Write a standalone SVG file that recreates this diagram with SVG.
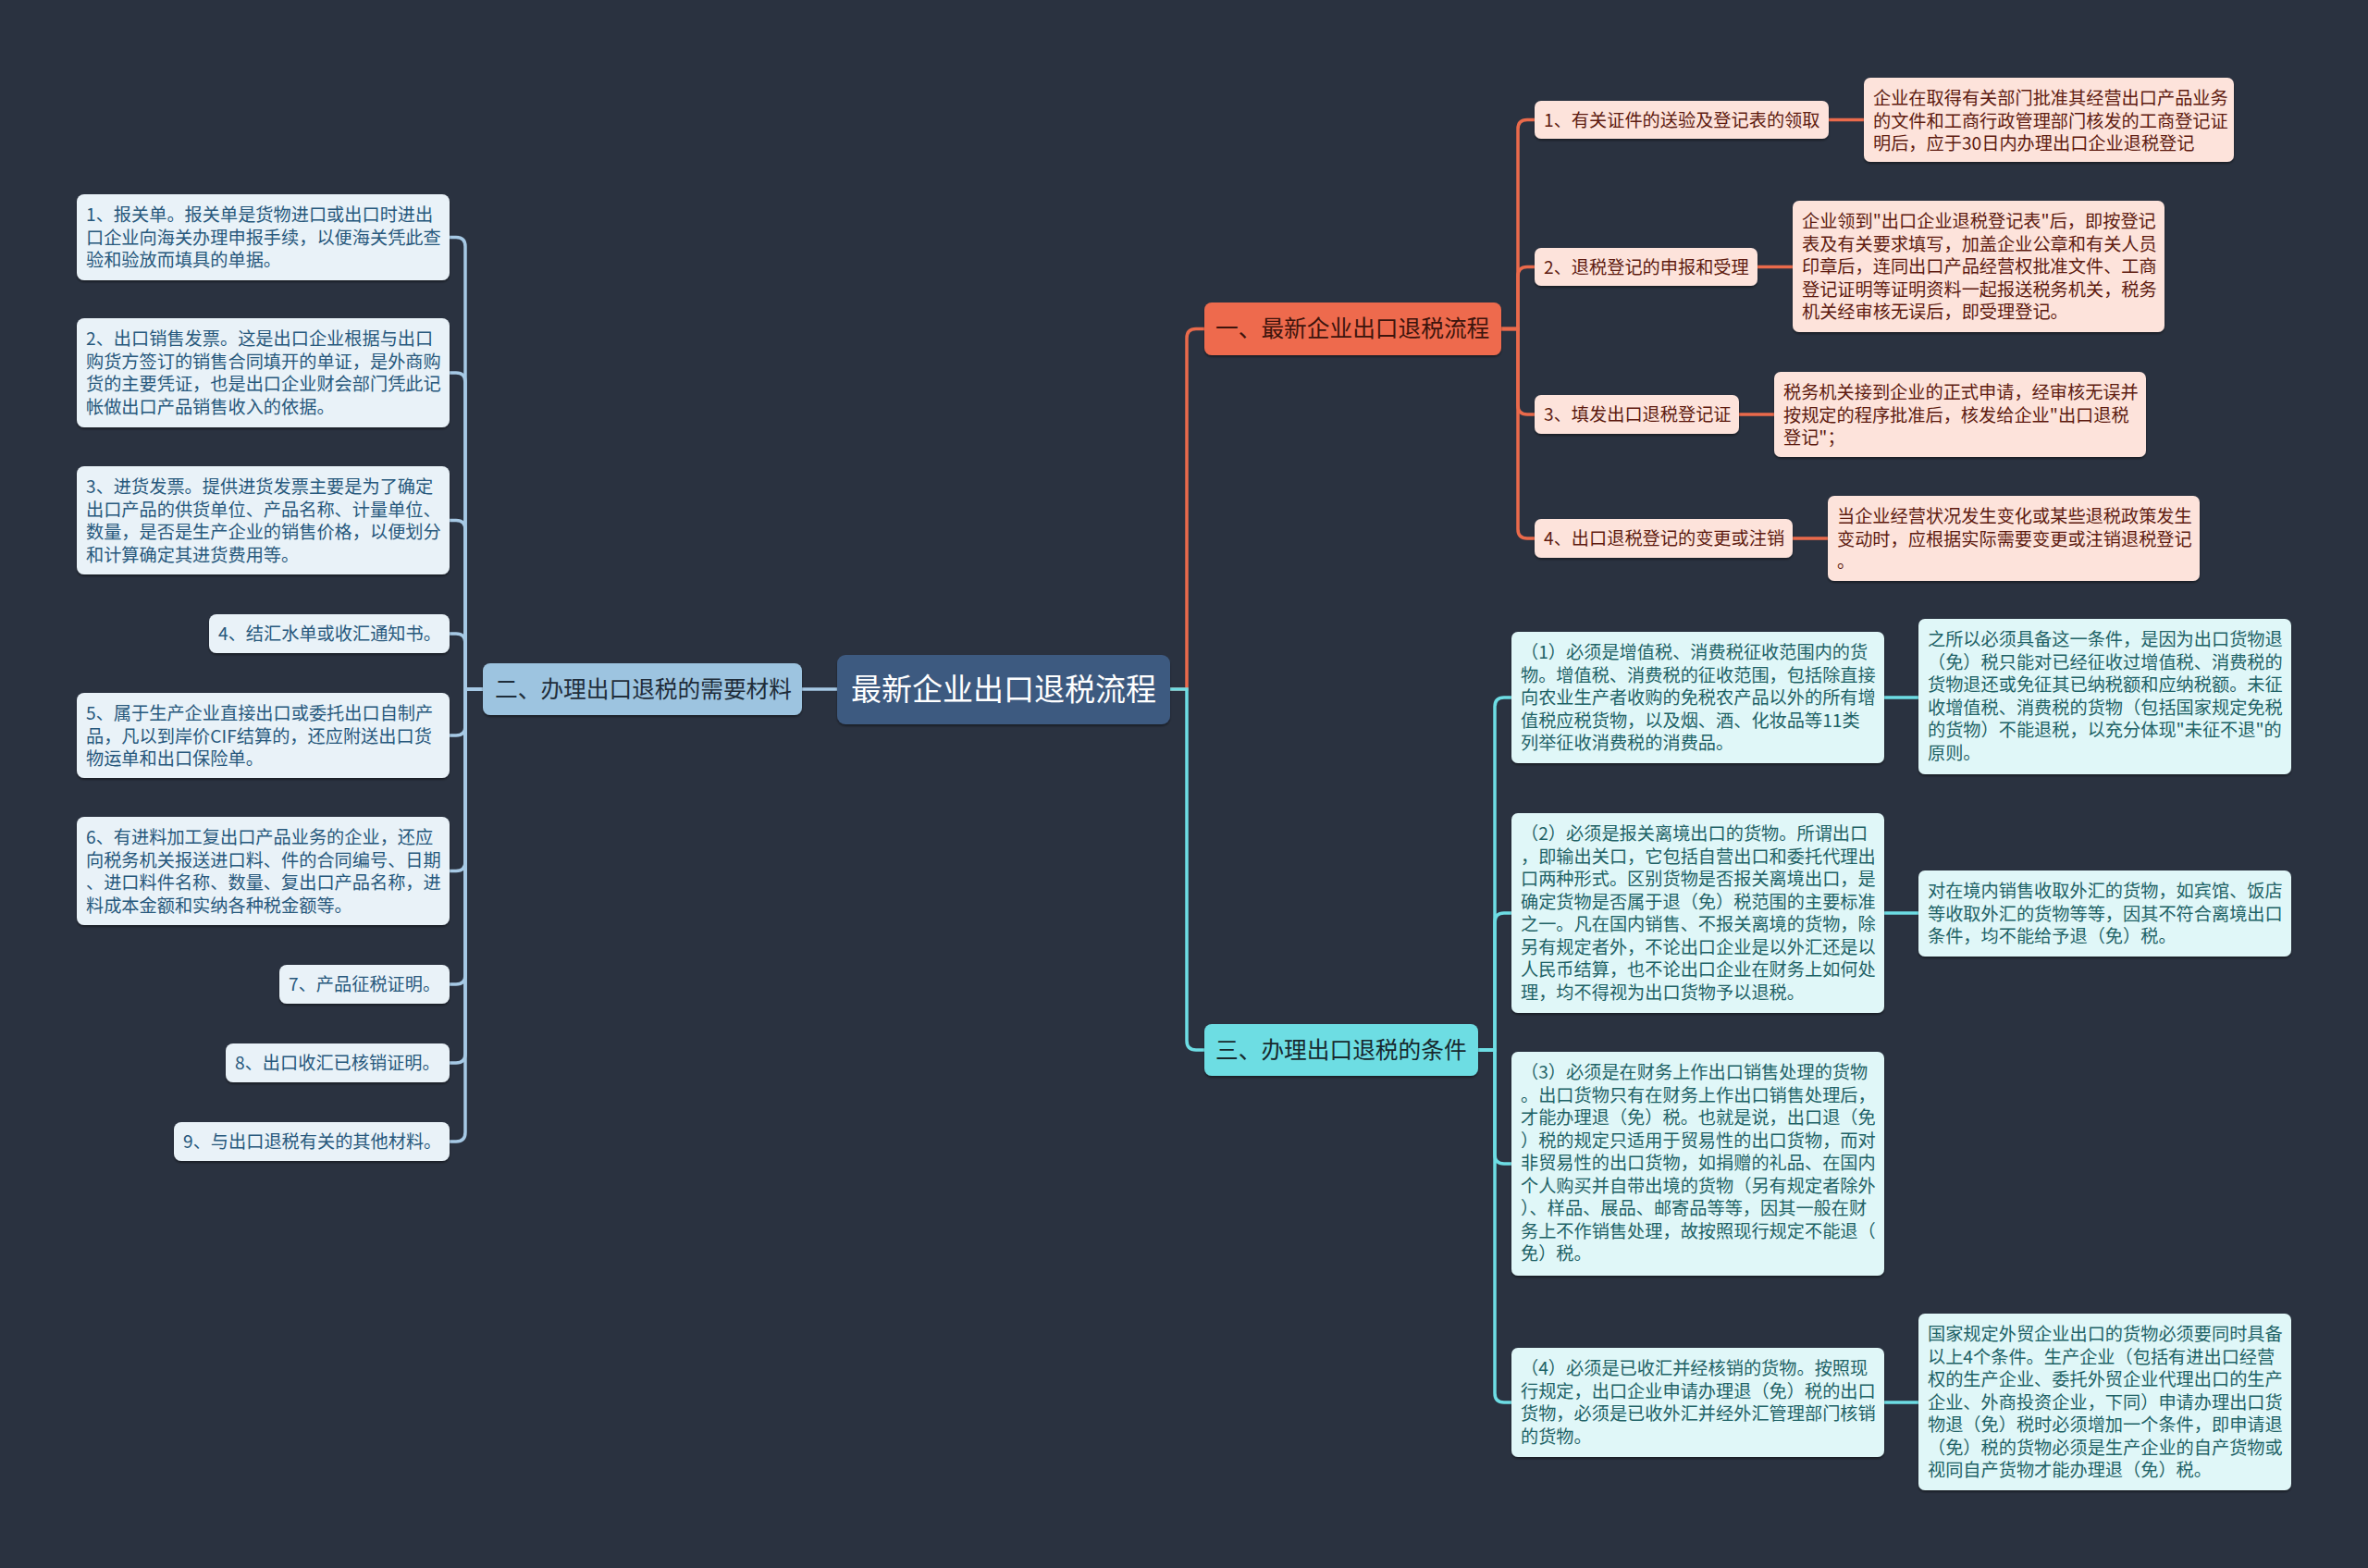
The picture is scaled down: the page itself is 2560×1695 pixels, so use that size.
<svg xmlns="http://www.w3.org/2000/svg" width="2560" height="1695" viewBox="0 0 2560 1695">
<defs>
<filter id="sh" x="-5%" y="-10%" width="110%" height="130%"><feDropShadow dx="0" dy="2" stdDeviation="1.2" flood-color="#000" flood-opacity="0.4"/></filter>
<style>
text{font-family:"Noto Sans CJK SC","Noto Sans",sans-serif;}
.lf rect{fill:#e9f2f8;filter:url(#sh);}
.lf text{fill:#27587c;font-size:19.2px;}
.of rect{fill:#fde3db;filter:url(#sh);}
.of text{fill:#5e1b10;font-size:19.2px;}
.cf rect{fill:#e0f7f8;filter:url(#sh);}
.cf text{fill:#1e6266;font-size:19.2px;}
.br text{font-size:24.7px;}
.cl{fill:none;stroke-width:3.5;stroke-linecap:round;}
.cb{stroke:#a6c9e5;}
.co{stroke:#ea6a4b;}
.cc{stroke:#6ddde4;}
</style>
</defs>
<rect width="2560" height="1695" fill="#2a3240"/>

<g id="connectors">
<path class="cl cb" d="M905 745 H867"/>
<path class="cl cb" d="M522 745 H503 V266.5 Q503 256.5 493 256.5 H486"/>
<path class="cl cb" d="M522 745 H503 V413 Q503 403 493 403 H486"/>
<path class="cl cb" d="M522 745 H503 V572.5 Q503 562.5 493 562.5 H486"/>
<path class="cl cb" d="M522 745 H503 V695 Q503 685 493 685 H486"/>
<path class="cl cb" d="M522 745 H503 V785 Q503 795 493 795 H486"/>
<path class="cl cb" d="M522 745 H503 V931.5 Q503 941.5 493 941.5 H486"/>
<path class="cl cb" d="M522 745 H503 V1054 Q503 1064 493 1064 H486"/>
<path class="cl cb" d="M522 745 H503 V1139 Q503 1149 493 1149 H486"/>
<path class="cl cb" d="M522 745 H503 V1224 Q503 1234 493 1234 H486"/>

<path class="cl co" d="M1265 745 H1283 V365.5 Q1283 355.5 1293 355.5 H1302"/>
<path class="cl cc" d="M1265 745 H1283 V1125 Q1283 1135 1293 1135 H1302"/>

<path class="cl co" d="M1623 355.5 H1641 V139.5 Q1641 129.5 1651 129.5 H1659"/>
<path class="cl co" d="M1623 355.5 H1641 V298.5 Q1641 288.5 1651 288.5 H1659"/>
<path class="cl co" d="M1623 355.5 H1641 V438 Q1641 448 1651 448 H1659"/>
<path class="cl co" d="M1623 355.5 H1641 V572 Q1641 582 1651 582 H1659"/>
<path class="cl co" d="M1977 129.5 H2015"/>
<path class="cl co" d="M1900 288.5 H1938"/>
<path class="cl co" d="M1880 448 H1918"/>
<path class="cl co" d="M1938 582 H1976"/>

<path class="cl cc" d="M1598 1135 H1616 V764 Q1616 754 1626 754 H1634"/>
<path class="cl cc" d="M1598 1135 H1616 V997 Q1616 987 1626 987 H1634"/>
<path class="cl cc" d="M1598 1135 H1616 V1248 Q1616 1258 1626 1258 H1634"/>
<path class="cl cc" d="M1598 1135 H1616 V1506 Q1616 1516 1626 1516 H1634"/>
<path class="cl cc" d="M2037 754 H2074"/>
<path class="cl cc" d="M2037 987 H2074"/>
<path class="cl cc" d="M2037 1516 H2074"/>
</g>

<g id="root">
<rect x="905" y="708" width="360" height="75" rx="9" fill="#3e5a80" filter="url(#sh)"/>
<text x="1085" y="757" text-anchor="middle" font-size="33" fill="#ffffff">最新企业出口退税流程</text>
</g>

<g id="b2" class="br">
<rect x="522" y="717" width="345" height="56" rx="8" fill="#9dc4e0" filter="url(#sh)"/>
<text x="535" y="753.7" fill="#1f2d3a">二、办理出口退税的需要材料</text>
</g>
<g id="b1" class="br">
<rect x="1302" y="327" width="321" height="57" rx="8" fill="#ee6b4d" filter="url(#sh)"/>
<text x="1314" y="364" fill="#3d140c">一、最新企业出口退税流程</text>
</g>
<g id="b3" class="br">
<rect x="1302" y="1107" width="296" height="56" rx="8" fill="#6ddde3" filter="url(#sh)"/>
<text x="1314" y="1143.7" fill="#17292e">三、办理出口退税的条件</text>
</g>

<g id="l1" class="lf"><rect x="83" y="210" width="403" height="93" rx="8"/>
<text><tspan x="93" y="239.25">1、报关单。报关单是货物进口或出口时进出</tspan><tspan x="93" y="263.75">口企业向海关办理申报手续，以便海关凭此查</tspan><tspan x="93" y="288.25">验和验放而填具的单据。</tspan></text></g>
<g id="l2" class="lf"><rect x="83" y="344" width="403" height="118" rx="8"/>
<text><tspan x="93" y="373.25">2、出口销售发票。这是出口企业根据与出口</tspan><tspan x="93" y="397.75">购货方签订的销售合同填开的单证，是外商购</tspan><tspan x="93" y="422.25">货的主要凭证，也是出口企业财会部门凭此记</tspan><tspan x="93" y="446.75">帐做出口产品销售收入的依据。</tspan></text></g>
<g id="l3" class="lf"><rect x="83" y="504" width="403" height="117" rx="8"/>
<text><tspan x="93" y="533.25">3、进货发票。提供进货发票主要是为了确定</tspan><tspan x="93" y="557.75">出口产品的供货单位、产品名称、计量单位、</tspan><tspan x="93" y="582.25">数量，是否是生产企业的销售价格，以便划分</tspan><tspan x="93" y="606.75">和计算确定其进货费用等。</tspan></text></g>
<g id="l4" class="lf"><rect x="226" y="664" width="260" height="42" rx="8"/>
<text x="236" y="692">4、结汇水单或收汇通知书。</text></g>
<g id="l5" class="lf"><rect x="83" y="749" width="403" height="92" rx="8"/>
<text><tspan x="93" y="778.25">5、属于生产企业直接出口或委托出口自制产</tspan><tspan x="93" y="802.75">品，凡以到岸价CIF结算的，还应附送出口货</tspan><tspan x="93" y="827.25">物运单和出口保险单。</tspan></text></g>
<g id="l6" class="lf"><rect x="83" y="883" width="403" height="117" rx="8"/>
<text><tspan x="93" y="912.25">6、有进料加工复出口产品业务的企业，还应</tspan><tspan x="93" y="936.75">向税务机关报送进口料、件的合同编号、日期</tspan><tspan x="93" y="961.25">、进口料件名称、数量、复出口产品名称，进</tspan><tspan x="93" y="985.75">料成本金额和实纳各种税金额等。</tspan></text></g>
<g id="l7" class="lf"><rect x="302" y="1043" width="184" height="42" rx="8"/>
<text x="312" y="1071">7、产品征税证明。</text></g>
<g id="l8" class="lf"><rect x="244" y="1128" width="242" height="42" rx="8"/>
<text x="254" y="1156">8、出口收汇已核销证明。</text></g>
<g id="l9" class="lf"><rect x="188" y="1213" width="298" height="42" rx="8"/>
<text x="198" y="1241">9、与出口退税有关的其他材料。</text></g>

<g id="s1" class="of"><rect x="1659" y="109" width="318" height="41" rx="7"/>
<text x="1669" y="136.5">1、有关证件的送验及登记表的领取</text></g>
<g id="s2" class="of"><rect x="1659" y="268" width="241" height="41" rx="7"/>
<text x="1669" y="295.5">2、退税登记的申报和受理</text></g>
<g id="s3" class="of"><rect x="1659" y="427" width="221" height="42" rx="7"/>
<text x="1669" y="455">3、填发出口退税登记证</text></g>
<g id="s4" class="of"><rect x="1659" y="561" width="279" height="42" rx="7"/>
<text x="1669" y="589">4、出口退税登记的变更或注销</text></g>

<g id="e1" class="of"><rect x="2015" y="84" width="400" height="91" rx="7"/>
<text><tspan x="2025" y="113.25">企业在取得有关部门批准其经营出口产品业务</tspan><tspan x="2025" y="137.75">的文件和工商行政管理部门核发的工商登记证</tspan><tspan x="2025" y="162.25">明后，应于30日内办理出口企业退税登记</tspan></text></g>
<g id="e2" class="of"><rect x="1938" y="217" width="402" height="142" rx="7"/>
<text><tspan x="1948" y="246.25">企业领到"出口企业退税登记表"后，即按登记</tspan><tspan x="1948" y="270.75">表及有关要求填写，加盖企业公章和有关人员</tspan><tspan x="1948" y="295.25">印章后，连同出口产品经营权批准文件、工商</tspan><tspan x="1948" y="319.75">登记证明等证明资料一起报送税务机关，税务</tspan><tspan x="1948" y="344.25">机关经审核无误后，即受理登记。</tspan></text></g>
<g id="e3" class="of"><rect x="1918" y="402" width="402" height="92" rx="7"/>
<text><tspan x="1928" y="431.25">税务机关接到企业的正式申请，经审核无误并</tspan><tspan x="1928" y="455.75">按规定的程序批准后，核发给企业"出口退税</tspan><tspan x="1928" y="480.25">登记"；</tspan></text></g>
<g id="e4" class="of"><rect x="1976" y="536" width="402" height="92" rx="7"/>
<text><tspan x="1986" y="565.25">当企业经营状况发生变化或某些退税政策发生</tspan><tspan x="1986" y="589.75">变动时，应根据实际需要变更或注销退税登记</tspan><tspan x="1986" y="614.25">。</tspan></text></g>

<g id="c1" class="cf"><rect x="1634" y="683" width="403" height="142" rx="7"/>
<text><tspan x="1644" y="712.25">（1）必须是增值税、消费税征收范围内的货</tspan><tspan x="1644" y="736.75">物。增值税、消费税的征收范围，包括除直接</tspan><tspan x="1644" y="761.25">向农业生产者收购的免税农产品以外的所有增</tspan><tspan x="1644" y="785.75">值税应税货物，以及烟、酒、化妆品等11类</tspan><tspan x="1644" y="810.25">列举征收消费税的消费品。</tspan></text></g>
<g id="c2" class="cf"><rect x="1634" y="879" width="403" height="216" rx="7"/>
<text><tspan x="1644" y="908.25">（2）必须是报关离境出口的货物。所谓出口</tspan><tspan x="1644" y="932.75">，即输出关口，它包括自营出口和委托代理出</tspan><tspan x="1644" y="957.25">口两种形式。区别货物是否报关离境出口，是</tspan><tspan x="1644" y="981.75">确定货物是否属于退（免）税范围的主要标准</tspan><tspan x="1644" y="1006.25">之一。凡在国内销售、不报关离境的货物，除</tspan><tspan x="1644" y="1030.75">另有规定者外，不论出口企业是以外汇还是以</tspan><tspan x="1644" y="1055.25">人民币结算，也不论出口企业在财务上如何处</tspan><tspan x="1644" y="1079.75">理，均不得视为出口货物予以退税。</tspan></text></g>
<g id="c3" class="cf"><rect x="1634" y="1137" width="403" height="242" rx="7"/>
<text><tspan x="1644" y="1166.25">（3）必须是在财务上作出口销售处理的货物</tspan><tspan x="1644" y="1190.75">。出口货物只有在财务上作出口销售处理后，</tspan><tspan x="1644" y="1215.25">才能办理退（免）税。也就是说，出口退（免</tspan><tspan x="1644" y="1239.75">）税的规定只适用于贸易性的出口货物，而对</tspan><tspan x="1644" y="1264.25">非贸易性的出口货物，如捐赠的礼品、在国内</tspan><tspan x="1644" y="1288.75">个人购买并自带出境的货物（另有规定者除外</tspan><tspan x="1644" y="1313.25">）、样品、展品、邮寄品等等，因其一般在财</tspan><tspan x="1644" y="1337.75">务上不作销售处理，故按照现行规定不能退（</tspan><tspan x="1644" y="1362.25">免）税。</tspan></text></g>
<g id="c4" class="cf"><rect x="1634" y="1457" width="403" height="118" rx="7"/>
<text><tspan x="1644" y="1486.25">（4）必须是已收汇并经核销的货物。按照现</tspan><tspan x="1644" y="1510.75">行规定，出口企业申请办理退（免）税的出口</tspan><tspan x="1644" y="1535.25">货物，必须是已收外汇并经外汇管理部门核销</tspan><tspan x="1644" y="1559.75">的货物。</tspan></text></g>

<g id="x1" class="cf"><rect x="2074" y="669" width="403" height="168" rx="7"/>
<text><tspan x="2084" y="698.25">之所以必须具备这一条件，是因为出口货物退</tspan><tspan x="2084" y="722.75">（免）税只能对已经征收过增值税、消费税的</tspan><tspan x="2084" y="747.25">货物退还或免征其已纳税额和应纳税额。未征</tspan><tspan x="2084" y="771.75">收增值税、消费税的货物（包括国家规定免税</tspan><tspan x="2084" y="796.25">的货物）不能退税，以充分体现"未征不退"的</tspan><tspan x="2084" y="820.75">原则。</tspan></text></g>
<g id="x2" class="cf"><rect x="2074" y="941" width="403" height="93" rx="7"/>
<text><tspan x="2084" y="970.25">对在境内销售收取外汇的货物，如宾馆、饭店</tspan><tspan x="2084" y="994.75">等收取外汇的货物等等，因其不符合离境出口</tspan><tspan x="2084" y="1019.25">条件，均不能给予退（免）税。</tspan></text></g>
<g id="x4" class="cf"><rect x="2074" y="1420" width="403" height="191" rx="7"/>
<text><tspan x="2084" y="1449.25">国家规定外贸企业出口的货物必须要同时具备</tspan><tspan x="2084" y="1473.75">以上4个条件。生产企业（包括有进出口经营</tspan><tspan x="2084" y="1498.25">权的生产企业、委托外贸企业代理出口的生产</tspan><tspan x="2084" y="1522.75">企业、外商投资企业，下同）申请办理出口货</tspan><tspan x="2084" y="1547.25">物退（免）税时必须增加一个条件，即申请退</tspan><tspan x="2084" y="1571.75">（免）税的货物必须是生产企业的自产货物或</tspan><tspan x="2084" y="1596.25">视同自产货物才能办理退（免）税。</tspan></text></g>
</svg>
